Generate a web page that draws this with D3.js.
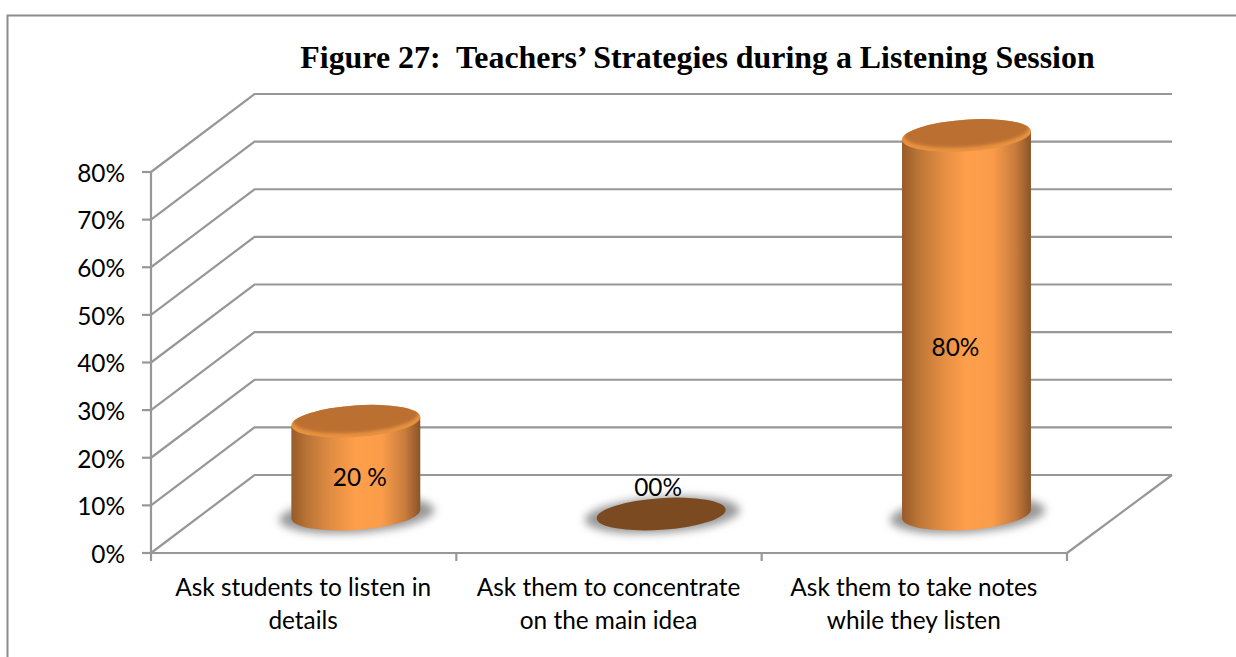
<!DOCTYPE html>
<html><head><meta charset="utf-8">
<script src="https://cdnjs.cloudflare.com/ajax/libs/d3/7.8.5/d3.min.js"></script>
<style>
html,body{margin:0;padding:0;background:#fff;overflow:hidden}
svg{display:block}
text{fill:#000}
.lab{font-family:Lato,"Open Sans",sans-serif;font-size:24.4px}
.title{font-family:"Liberation Serif",serif;font-weight:bold;font-size:31.9px;white-space:pre}
</style></head><body>
<script>
const categories=[["Ask students to listen in","details"],["Ask them to concentrate","on the main idea"],["Ask them to take notes","while they listen"]];
const values=[0.2,0,0.8];
const valueLabels=["20 %","00%","80%"];
const yTicks=[0,0.1,0.2,0.3,0.4,0.5,0.6,0.7,0.8];
const titleText="Figure 27:  Teachers\u2019 Strategies during a Listening Session";

const W=1236,H=657;
const svg=d3.select("body").append("svg").attr("width",W).attr("height",H);
const defs=svg.append("defs");
const GRID="#979797";
const depth={dx:103.5,dy:-78};
const y=d3.scaleLinear().domain([0,0.8]).range([553,172]);
const x=d3.scaleBand().domain(d3.range(categories.length)).range([151,1067]);

// frame
svg.append("path").attr("d",`M7.5,${H}V15.5H${W}`).attr("fill","none").attr("stroke","#8c8c8c").attr("stroke-width",2);

// title
svg.append("text").attr("class","title").attr("x",697.5).attr("y",68).attr("text-anchor","middle").text(titleText);

// gradients
const side=defs.append("linearGradient").attr("id","side");
[[0,"#985a28"],[0.12,"#b97436"],[0.3,"#e08c42"],[0.5,"#ff9f4b"],[0.7,"#fb9c4a"],[0.88,"#c87c3c"],[1,"#8a5428"]]
 .forEach(([o,c])=>side.append("stop").attr("offset",o).attr("stop-color",c));
defs.append("filter").attr("id","blur").attr("x","-30%").attr("y","-60%").attr("width","160%").attr("height","220%")
 .append("feGaussianBlur").attr("stdDeviation",4.5);
defs.append("filter").attr("id","soft").attr("x","-10%").attr("y","-30%").attr("width","120%").attr("height","160%")
 .append("feGaussianBlur").attr("stdDeviation",1.6);

// walls / grid
svg.append("g").selectAll("path").data(yTicks).join("path")
 .attr("d",v=>`M${x.range()[0]},${y(v)}l${depth.dx},${depth.dy}H${x.range()[1]+depth.dx+1.5}`)
 .attr("fill","none").attr("stroke",GRID).attr("stroke-width",2.2);
svg.append("path")
 .attr("d",`M${x.range()[1]},${y(0)}l${depth.dx+1.5},${depth.dy}`)
 .attr("fill","none").attr("stroke",GRID).attr("stroke-width",2.2);

// axes
const yAxis=d3.axisLeft(y).tickValues(yTicks).tickFormat(d3.format(".0%")).tickSize(9).tickPadding(17).offset(0);
const gy=svg.append("g").attr("transform",`translate(${x.range()[0]},0)`).call(yAxis);
const xAxis=d3.axisBottom(d3.scaleLinear().domain([0,categories.length]).range(x.range()))
 .tickValues(d3.range(categories.length+1)).tickFormat("").tickSize(8).tickSizeOuter(0).offset(0);
const gx=svg.append("g").attr("transform",`translate(0,${y(0)})`).call(xAxis);
[gy,gx].forEach(g=>{g.selectAll(".domain").attr("stroke",GRID).attr("stroke-width",2.2);
 g.selectAll("line").attr("stroke",GRID).attr("stroke-width",2.2);g.attr("font-family",null).attr("font-size",null);});
gy.selectAll("line").attr("x2",-9);
gy.selectAll("text").attr("class","lab").attr("dy","0.40em").attr("x",-26);

// category labels
const catG=svg.append("g").selectAll("text").data(categories).join("text").attr("class","lab").attr("text-anchor","middle");
catG.selectAll("tspan").data((d,i)=>d.map(t=>({t,i}))).join("tspan")
 .attr("x",d=>x(d.i)+x.bandwidth()/2-0.5)
 .attr("y",(d,j)=>596+j*33).text(d=>d.t);

// cylinders
const A=64.6,B=15.9,THETA=-3.9;
const rad=THETA*Math.PI/180;
const halfW=Math.sqrt(A*A*Math.cos(rad)**2+B*B*Math.sin(rad)**2);
const cov=(A*A-B*B)*Math.sin(rad)*Math.cos(rad);
const tangentDy=cov/halfW;
const baseY=514, capDrop=2.5, unit=y(0)-y(0.1);
const px=v=>v/0.1*unit;
const cx=i=>x(i)+x.bandwidth()/2+depth.dx/2+0.4;
const labelShift=[{dx:4,dy:12},{dx:-3,dy:-26},{dx:-11,dy:24}];

values.forEach((v,i)=>{
 const g=svg.append("g");
 const c=cx(i),h=px(v),top=v>0?baseY-h+capDrop:baseY;
 g.append("ellipse").attr("cx",c+1).attr("cy",baseY+1).attr("rx",A+13).attr("ry",B+2)
  .attr("transform",`rotate(${THETA} ${c} ${baseY})`).attr("fill","#989898").attr("filter","url(#blur)");
 if(v>0){
  g.append("path")
   .attr("d",`M${c-halfW},${top-tangentDy}L${c-halfW},${baseY-tangentDy}A${A},${B} ${THETA} 0 0 ${c+halfW},${baseY+tangentDy}L${c+halfW},${top+tangentDy}Z`)
   .attr("fill","url(#side)");
  g.append("ellipse").attr("cx",c).attr("cy",top).attr("rx",A).attr("ry",B)
   .attr("transform",`rotate(${THETA} ${c} ${top})`).attr("fill","#e8913f");
  defs.append("clipPath").attr("id","tc"+i).append("ellipse").attr("cx",c).attr("cy",top).attr("rx",A).attr("ry",B)
   .attr("transform",`rotate(${THETA} ${c} ${top})`);
  g.append("g").attr("clip-path",`url(#tc${i})`).append("ellipse")
   .attr("cx",c).attr("cy",top-4).attr("rx",A-2).attr("ry",B-0.5)
   .attr("transform",`rotate(${THETA} ${c} ${top-4})`).attr("fill","#bb7033").attr("filter","url(#soft)");
 } else {
  g.append("ellipse").attr("cx",c).attr("cy",top).attr("rx",A).attr("ry",B)
   .attr("transform",`rotate(${THETA} ${c} ${top})`).attr("fill","#7c4a20");
 }
});
// value labels
svg.append("g").selectAll("text").data(values).join("text").attr("class","lab").attr("text-anchor","middle")
 .attr("x",(d,i)=>cx(i)+labelShift[i].dx)
 .attr("y",(d,i)=>baseY-px(d)/2+labelShift[i].dy+8)
 .text((d,i)=>valueLabels[i]);
</script></body></html>
